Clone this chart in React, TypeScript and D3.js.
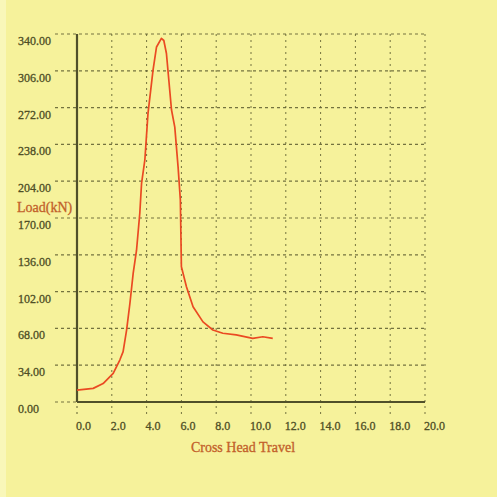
import React, { useEffect, useRef } from "react";
import * as d3 from "d3";

// Cross head travel (x) and load in kN (y)
const travel = [0, 0.93, 1.5, 2.08, 2.46, 2.65, 2.85, 3.04, 3.23, 3.42, 3.61, 3.71, 3.9, 4.08, 4.37, 4.57, 4.85, 4.99, 5.14, 5.43, 5.62, 5.81, 5.94, 6.0, 6.29, 6.67, 7.24, 7.81, 8.38, 9.15, 10.1, 10.68, 11.25];
const load = [11, 12.6, 17, 26.5, 38.8, 46.5, 66.5, 91, 119, 140, 174.6, 202, 223.6, 266.7, 306.7, 328, 336, 334, 322, 270, 254, 217, 186.6, 125, 106.5, 88, 74, 66.5, 63.5, 62, 58.8, 60.3, 58.8];

const xTicks = [0, 2, 4, 6, 8, 10, 12, 14, 16, 18, 20];
const yTicks = [0, 34, 68, 102, 136, 170, 204, 238, 272, 306, 340];

function App() {
  const svgRef = useRef<SVGSVGElement>(null);

  const w = 497;
  const h = 497;
  const left = 77;
  const right = 425;
  const top = 34;
  const bottom = 402;

  useEffect(() => {
    const svg = d3.select(svgRef.current);
    svg.selectAll("*").remove();

    svg.append("rect").attr("width", w).attr("height", h).attr("fill", "#f6f29b");
    svg.append("rect").attr("width", 6).attr("height", h).attr("fill", "#f9f7b9");

    const x = d3.scaleLinear().domain([0, 20]).range([left, right]);
    const y = d3.scaleLinear().domain([0, 340]).range([bottom, top]);

    const gridColor = "#5e5e30";
    const textColor = "#4f4f26";
    const font = "Liberation Serif, serif";

    // horizontal grid
    svg
      .append("g")
      .selectAll("line")
      .data(yTicks)
      .join("line")
      .attr("x1", left - 22)
      .attr("x2", right)
      .attr("y1", (d) => y(d))
      .attr("y2", (d) => y(d))
      .attr("stroke", gridColor)
      .attr("stroke-width", 1.2)
      .attr("stroke-dasharray", "3,3")
      .attr("opacity", 0.85);

    // vertical grid
    svg
      .append("g")
      .selectAll("line")
      .data(xTicks.slice(1))
      .join("line")
      .attr("x1", (d) => x(d))
      .attr("x2", (d) => x(d))
      .attr("y1", top)
      .attr("y2", bottom + 12)
      .attr("stroke", gridColor)
      .attr("stroke-width", 1)
      .attr("stroke-dasharray", "2,4")
      .attr("opacity", 0.85);

    svg
      .append("line")
      .attr("x1", left)
      .attr("x2", left)
      .attr("y1", bottom + 12)
      .attr("y2", bottom)
      .attr("stroke", gridColor)
      .attr("stroke-dasharray", "2,4");

    // axes
    svg
      .append("line")
      .attr("x1", left)
      .attr("x2", left)
      .attr("y1", top)
      .attr("y2", bottom)
      .attr("stroke", "#50502a")
      .attr("stroke-width", 2.2);
    svg
      .append("line")
      .attr("x1", left)
      .attr("x2", right)
      .attr("y1", bottom)
      .attr("y2", bottom)
      .attr("stroke", "#50502a")
      .attr("stroke-width", 2.2);

    // tick labels
    svg
      .append("g")
      .selectAll("text")
      .data(yTicks)
      .join("text")
      .attr("x", 18)
      .attr("y", (d) => y(d) + 11)
      .attr("font-family", font)
      .attr("font-size", 12)
      .attr("fill", textColor)
      .attr("stroke", textColor)
      .attr("stroke-width", 0.3)
      .text((d) => d.toFixed(2));

    svg
      .append("g")
      .selectAll("text")
      .data(xTicks)
      .join("text")
      .attr("x", (d) => x(d) - 1)
      .attr("y", 430)
      .attr("font-family", font)
      .attr("font-size", 12)
      .attr("fill", textColor)
      .attr("stroke", textColor)
      .attr("stroke-width", 0.3)
      .text((d) => d.toFixed(1));

    // titles
    svg
      .append("text")
      .attr("x", 17)
      .attr("y", 212)
      .attr("font-family", font)
      .attr("font-size", 14)
      .attr("fill", "#c2602a")
      .attr("stroke", "#c2602a")
      .attr("stroke-width", 0.3)
      .text("Load(kN)");

    svg
      .append("text")
      .attr("x", 243)
      .attr("y", 452)
      .attr("text-anchor", "middle")
      .attr("font-family", font)
      .attr("font-size", 14)
      .attr("fill", "#c2602a")
      .attr("stroke", "#c2602a")
      .attr("stroke-width", 0.3)
      .text("Cross Head Travel");

    // curve
    const pts = travel.map((t, i) => [t, load[i]] as [number, number]);
    const line = d3
      .line<[number, number]>()
      .x((d) => x(d[0]))
      .y((d) => y(d[1]));
    svg
      .append("path")
      .datum(pts)
      .attr("d", line)
      .attr("fill", "none")
      .attr("stroke", "#ea4a22")
      .attr("stroke-width", 1.7)
      .attr("stroke-linejoin", "round");
  }, []);

  return (
    <div style={{ position: "absolute", left: 0, top: 0 }}>
      <svg ref={svgRef} width={w} height={h} style={{ display: "block" }}></svg>
    </div>
  );
}

export default App;
